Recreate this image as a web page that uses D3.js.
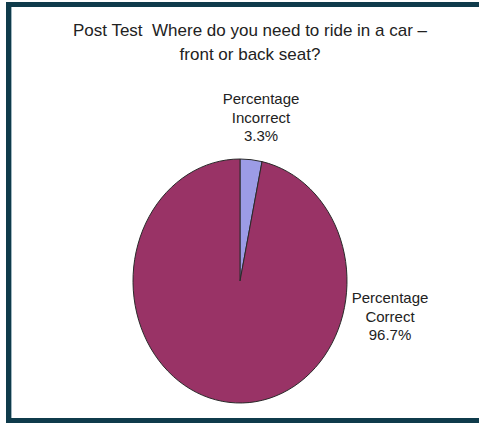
<!DOCTYPE html>
<html>
<head>
<meta charset="utf-8">
<script src="https://cdn.jsdelivr.net/npm/d3@7/dist/d3.min.js"></script>
<style>
  html, body { margin: 0; padding: 0; background: #fff; }
  svg { display: block; }
  text { white-space: pre; }
</style>
</head>
<body>
<svg id="chart" width="479" height="423"></svg>
<script>
// ---- data ----
const categories = ["Percentage Incorrect", "Percentage Correct"];
const values = [3.3, 96.7];
const labelLines = [["Percentage", "Incorrect", "3.3%"], ["Percentage", "Correct", "96.7%"]];
const titleLines = ["Post Test  Where do you need to ride in a car \u2013", "front or back seat?"];
const colors = ["#9c9ce6", "#993366"];

const svg = d3.select("#chart");
const W = 479, H = 423;

// frame
const frameColor = "#0f3b4b";
svg.append("rect").attr("x", 6).attr("y", 2).attr("width", W - 6).attr("height", 5).attr("fill", frameColor);
svg.append("rect").attr("x", 6).attr("y", 2).attr("width", 5).attr("height", H - 2).attr("fill", frameColor);
svg.append("rect").attr("x", 6).attr("y", 418).attr("width", W - 6).attr("height", 5).attr("fill", frameColor);
svg.append("rect").attr("x", 11).attr("y", 7).attr("width", 1).attr("height", 411).attr("fill", "#9fb6bf");

// title
const title = svg.append("text")
  .attr("text-anchor", "middle")
  .attr("font-family", "Liberation Sans, Arial, sans-serif")
  .attr("font-size", 17)
  .attr("fill", "#222");
title.selectAll("tspan").data(titleLines).join("tspan")
  .attr("x", 250)
  .attr("y", (d, i) => 36 + i * 24)
  .text(d => d);

// pie (ellipse)
const cx = 240, cy = 281, rx = 107, ry = 122;
const pie = d3.pie().sort(null).value(d => d)(values);
const arc = d3.arc().innerRadius(0).outerRadius(ry);
const g = svg.append("g").attr("transform", `translate(${cx},${cy}) scale(${rx / ry},1)`);
g.selectAll("path").data(pie).join("path")
  .attr("d", arc)
  .attr("fill", (d, i) => colors[i])
  .attr("stroke", "#2a2a2a")
  .attr("stroke-width", 1)
  .attr("vector-effect", "non-scaling-stroke");

// labels
const labelPos = [{x: 261, y: 104}, {x: 390, y: 303}];
labelLines.forEach((lines, i) => {
  const t = svg.append("text")
    .attr("text-anchor", "middle")
    .attr("font-family", "Liberation Sans, Arial, sans-serif")
    .attr("font-size", 15)
    .attr("fill", "#222");
  t.selectAll("tspan").data(lines).join("tspan")
    .attr("x", labelPos[i].x)
    .attr("y", (d, j) => labelPos[i].y + j * 18.5)
    .text(d => d);
});
</script>
</body>
</html>
